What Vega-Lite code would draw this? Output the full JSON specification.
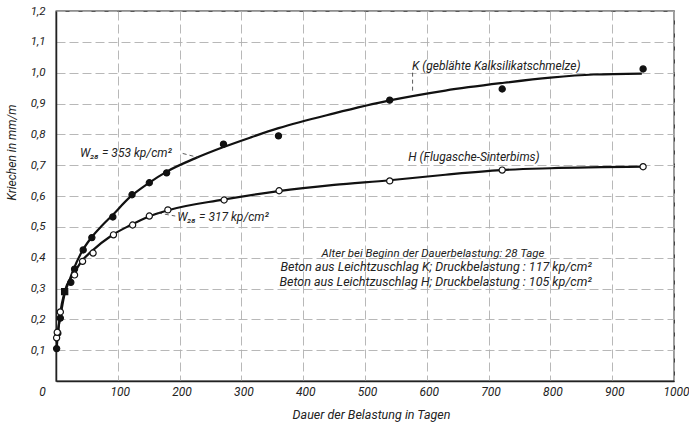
{
  "$schema": "https://vega.github.io/schema/vega-lite/v6.json",
  "width": 618,
  "height": 370,
  "autosize": {"type": "none"},
  "padding": {"left": 56, "top": 11, "right": 15, "bottom": 44},
  "background": "white",
  "config": {
    "locale": {"number": {"decimal": ",", "thousands": ".", "grouping": [3], "currency": ["", " €"]}},
    "view": {"stroke": "#222", "strokeWidth": 1.3},
    "font": "Roboto",
    "axis": {
      "labelFont": "Roboto",
      "titleFont": "Roboto",
      "labelFontStyle": "italic",
      "titleFontStyle": "italic",
      "titleFontWeight": "normal",
      "labelColor": "#222",
      "titleColor": "#222",
      "domainColor": "#222",
      "domainWidth": 1.5,
      "gridColor": "#b0b0b0",
      "gridDash": [9, 4],
      "gridWidth": 0.9,
      "ticks": false,
      "labelOverlap": false,
      "labelFlush": false
    }
  },
  "datasets": {
    "curves": [
      {"series": "K", "day": 1, "v": 0.1},
      {"series": "K", "day": 3, "v": 0.155},
      {"series": "K", "day": 7, "v": 0.207},
      {"series": "K", "day": 14, "v": 0.283},
      {"series": "K", "day": 21, "v": 0.322},
      {"series": "K", "day": 28, "v": 0.36},
      {"series": "K", "day": 42, "v": 0.42},
      {"series": "K", "day": 56, "v": 0.462},
      {"series": "K", "day": 75, "v": 0.505},
      {"series": "K", "day": 90, "v": 0.535},
      {"series": "K", "day": 120, "v": 0.597},
      {"series": "K", "day": 150, "v": 0.642},
      {"series": "K", "day": 180, "v": 0.68},
      {"series": "K", "day": 225, "v": 0.722},
      {"series": "K", "day": 270, "v": 0.758},
      {"series": "K", "day": 315, "v": 0.79},
      {"series": "K", "day": 360, "v": 0.82},
      {"series": "K", "day": 450, "v": 0.868},
      {"series": "K", "day": 540, "v": 0.91},
      {"series": "K", "day": 630, "v": 0.942},
      {"series": "K", "day": 720, "v": 0.966},
      {"series": "K", "day": 800, "v": 0.984},
      {"series": "K", "day": 870, "v": 0.994},
      {"series": "K", "day": 948, "v": 0.997},
      {"series": "H", "day": 1, "v": 0.125},
      {"series": "H", "day": 3, "v": 0.155},
      {"series": "H", "day": 7, "v": 0.222},
      {"series": "H", "day": 14, "v": 0.29},
      {"series": "H", "day": 28, "v": 0.345},
      {"series": "H", "day": 42, "v": 0.39},
      {"series": "H", "day": 56, "v": 0.418},
      {"series": "H", "day": 90, "v": 0.472},
      {"series": "H", "day": 120, "v": 0.505},
      {"series": "H", "day": 150, "v": 0.533},
      {"series": "H", "day": 180, "v": 0.553},
      {"series": "H", "day": 270, "v": 0.588},
      {"series": "H", "day": 360, "v": 0.616},
      {"series": "H", "day": 450, "v": 0.636},
      {"series": "H", "day": 540, "v": 0.651},
      {"series": "H", "day": 630, "v": 0.669},
      {"series": "H", "day": 720, "v": 0.684},
      {"series": "H", "day": 800, "v": 0.69},
      {"series": "H", "day": 950, "v": 0.695}
    ],
    "points": [
      {"series": "K", "form": "circle", "day": 1, "v": 0.105},
      {"series": "K", "form": "circle", "day": 3, "v": 0.155},
      {"series": "K", "form": "circle", "day": 7, "v": 0.204},
      {"series": "K", "form": "square", "day": 14, "v": 0.29},
      {"series": "K", "form": "circle", "day": 24, "v": 0.32},
      {"series": "K", "form": "circle", "day": 30, "v": 0.363},
      {"series": "K", "form": "circle", "day": 44, "v": 0.425},
      {"series": "K", "form": "circle", "day": 58, "v": 0.465},
      {"series": "K", "form": "circle", "day": 92, "v": 0.532},
      {"series": "K", "form": "circle", "day": 123, "v": 0.604},
      {"series": "K", "form": "circle", "day": 151, "v": 0.643},
      {"series": "K", "form": "circle", "day": 179, "v": 0.675},
      {"series": "K", "form": "circle", "day": 271, "v": 0.768},
      {"series": "K", "form": "circle", "day": 360, "v": 0.795},
      {"series": "K", "form": "circle", "day": 540, "v": 0.911},
      {"series": "K", "form": "circle", "day": 722, "v": 0.947},
      {"series": "K", "form": "circle", "day": 950, "v": 1.012},
      {"series": "H", "form": "circle", "day": 1, "v": 0.14},
      {"series": "H", "form": "circle", "day": 2, "v": 0.158},
      {"series": "H", "form": "circle", "day": 7, "v": 0.224},
      {"series": "H", "form": "circle", "day": 30, "v": 0.344},
      {"series": "H", "form": "circle", "day": 43, "v": 0.388},
      {"series": "H", "form": "circle", "day": 60, "v": 0.415},
      {"series": "H", "form": "circle", "day": 93, "v": 0.474},
      {"series": "H", "form": "circle", "day": 124, "v": 0.506},
      {"series": "H", "form": "circle", "day": 151, "v": 0.535},
      {"series": "H", "form": "circle", "day": 181, "v": 0.555},
      {"series": "H", "form": "circle", "day": 272, "v": 0.587},
      {"series": "H", "form": "circle", "day": 361, "v": 0.617},
      {"series": "H", "form": "circle", "day": 540, "v": 0.649},
      {"series": "H", "form": "circle", "day": 722, "v": 0.684},
      {"series": "H", "form": "circle", "day": 950, "v": 0.695}
    ],
    "leaders": [
      {"day": 577, "v": 1.0, "day2": 577, "v2": 0.935},
      {"day": 205, "v": 0.738, "day2": 230, "v2": 0.725},
      {"day": 165, "v": 0.545, "day2": 193, "v2": 0.535}
    ],
    "labelsLeft": [
      {"day": 576, "v": 1.022, "text": "K (geblähte Kalksilikatschmelze)"},
      {"day": 570, "v": 0.728, "text": "H (Flugasche-Sinterbims)"},
      {"day": 39, "v": 0.74, "text": "W₂₈ = 353 kp/cm²"},
      {"day": 196, "v": 0.532, "text": "W₂₈ = 317 kp/cm²"}
    ],
    "notesCenter": [
      {"day": 610, "v": 0.413, "text": "Alter bei Beginn der Dauerbelastung: 28 Tage"}
    ],
    "notesRight": [
      {"day": 867, "v": 0.37, "text": "Beton aus Leichtzuschlag K; Druckbelastung : 117 kp/cm²"},
      {"day": 867, "v": 0.322, "text": "Beton aus Leichtzuschlag H; Druckbelastung : 105 kp/cm²"}
    ]
  },
  "layer": [
    {
      "data": {"name": "curves"},
      "mark": {"type": "line", "interpolate": "monotone", "color": "#111", "strokeWidth": 2.2},
      "encoding": {
        "x": {
          "field": "day", "type": "quantitative",
          "scale": {"domain": [0, 1000], "nice": false},
          "axis": {
            "values": [0, 100, 200, 300, 400, 500, 600, 700, 800, 900, 1000],
            "tickCount": 20,
            "format": "d",
            "title": "Dauer der Belastung in Tagen",
            "labelFontSize": 12,
            "titleFontSize": 12.5,
            "labelPadding": 5,
            "labelOffset": {"condition": {"test": "datum.value === 0", "value": -14}, "value": 2},
            "titleX": 315,
            "titleY": 33,
            "titleBaseline": "middle"
          }
        },
        "y": {
          "field": "v", "type": "quantitative",
          "scale": {"domain": [0, 1.2], "nice": false},
          "axis": {
            "values": [0.1, 0.2, 0.3, 0.4, 0.5, 0.6, 0.7, 0.8, 0.9, 1.0, 1.1, 1.2],
            "tickCount": 20,
            "format": ".1f",
            "title": "Kriechen in mm/m",
            "labelFontSize": 11.5,
            "titleFontSize": 12,
            "labelPadding": 11,
            "titleX": -45,
            "titleY": 141,
            "titleBaseline": "middle",
            "titleAlign": "center",
            "titleAngle": -90
          }
        },
        "detail": {"field": "series"}
      }
    },
    {
      "data": {"name": "leaders"},
      "mark": {"type": "rule", "color": "#333", "strokeWidth": 0.8, "strokeDash": [4, 3]},
      "encoding": {
        "x": {"field": "day", "type": "quantitative"},
        "y": {"field": "v", "type": "quantitative"},
        "x2": {"field": "day2"},
        "y2": {"field": "v2"}
      }
    },
    {
      "data": {"name": "points"},
      "mark": {"type": "point", "filled": true, "stroke": "#111", "strokeWidth": 1.2, "opacity": 1},
      "encoding": {
        "x": {"field": "day", "type": "quantitative"},
        "y": {"field": "v", "type": "quantitative"},
        "shape": {"field": "form", "type": "nominal", "scale": {"domain": ["circle", "square"], "range": ["circle", "square"]}, "legend": null},
        "fill": {"field": "series", "type": "nominal", "scale": {"domain": ["K", "H"], "range": ["#111", "#ffffff"]}, "legend": null},
        "size": {"value": 38}
      }
    },
    {
      "data": {"name": "labelsLeft"},
      "mark": {"type": "text", "align": "left", "baseline": "middle", "fontStyle": "italic", "fontSize": 12, "color": "#222", "font": "Roboto"},
      "encoding": {
        "x": {"field": "day", "type": "quantitative"},
        "y": {"field": "v", "type": "quantitative"},
        "text": {"field": "text"}
      }
    },
    {
      "data": {"name": "notesCenter"},
      "mark": {"type": "text", "align": "center", "baseline": "middle", "fontStyle": "italic", "fontSize": 11.5, "color": "#222", "font": "Roboto"},
      "encoding": {
        "x": {"field": "day", "type": "quantitative"},
        "y": {"field": "v", "type": "quantitative"},
        "text": {"field": "text"}
      }
    },
    {
      "data": {"name": "notesRight"},
      "mark": {"type": "text", "align": "right", "baseline": "middle", "fontStyle": "italic", "fontSize": 12.5, "color": "#222", "font": "Roboto"},
      "encoding": {
        "x": {"field": "day", "type": "quantitative"},
        "y": {"field": "v", "type": "quantitative"},
        "text": {"field": "text"}
      }
    }
  ]
}
